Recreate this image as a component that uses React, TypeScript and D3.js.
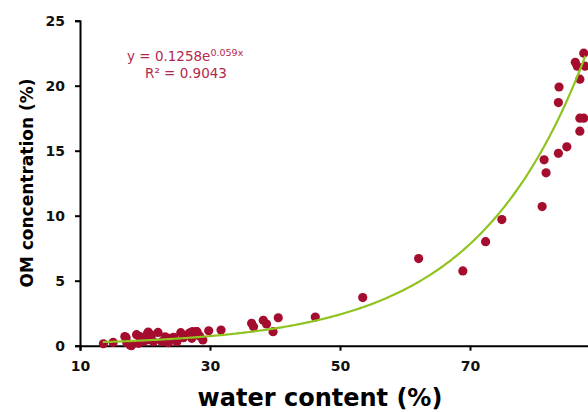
import * as d3 from "d3";
import React, { useEffect, useRef } from "react";

// water content (%) of each sample
const water = [
  13.6, 15.1, 16.9, 17.1, 17.2, 17.7, 17.9, 18.7, 19.0, 19.2, 19.5, 19.7, 20.3, 20.4, 20.5,
  21.0, 21.3, 22.0, 22.6, 23.1, 23.6, 23.8, 24.4, 24.9, 25.5, 25.9, 26.8, 26.9, 27.2, 27.3,
  27.9, 28.0, 28.4, 28.9, 29.8, 31.7, 36.4, 36.7, 38.2, 38.7, 39.7, 40.5, 46.2, 53.5, 62.1,
  68.9, 72.4, 74.9, 81.1, 81.7, 81.4, 83.6, 84.9, 83.6, 83.7, 86.9, 87.5, 86.9, 86.9, 86.5,
  86.2, 87.7, 87.5,
];
// OM concentration (%) of each sample
const om = [
  0.15, 0.25, 0.7, 0.62, 0.23, 0.05, 0.0, 0.85, 0.18, 0.7, 0.65, 0.31, 0.44, 0.95, 1.05,
  0.82, 0.31, 1.02, 0.31, 0.69, 0.23, 0.57, 0.65, 0.31, 1.0, 0.62, 0.95, 0.98, 0.57, 1.08,
  1.08, 1.08, 0.75, 0.44, 1.15, 1.2, 1.72, 1.45, 1.95, 1.67, 1.08, 2.15, 2.2, 3.7, 6.7,
  5.75, 8.0, 9.7, 10.7, 13.3, 14.3, 14.8, 15.3, 18.7, 19.9, 16.5, 17.5, 17.5, 20.5, 21.5,
  21.8, 21.5, 22.5,
];

const xTicks = [10, 30, 50, 70];
const yTicks = [0, 5, 10, 15, 20, 25];

// exponential fit shown on the chart
const fitA = 0.1258;
const fitB = 0.059;
const fitRange = [13.5, 87.8];

export default function App() {
  const ref = useRef<SVGSVGElement>(null);
  const width = 588;
  const height = 412;

  useEffect(() => {
    const svg = d3.select(ref.current);
    svg.selectAll("*").remove();

    const x = d3.scaleLinear().domain([10, 90]).range([80, 600]);
    const y = d3.scaleLinear().domain([0, 25]).range([345.7, 20.7]);

    const font = "'DejaVu Sans', Verdana, sans-serif";

    // y axis
    const yAxis = svg.append("g").attr("transform", `translate(${x(10)},0)`);
    yAxis.call(d3.axisLeft(y).tickValues(yTicks).tickSize(5).tickPadding(10));
    yAxis.select(".domain").attr("stroke", "#000").attr("stroke-width", 2);
    yAxis.selectAll(".tick line").attr("stroke", "#000").attr("stroke-width", 2);
    yAxis
      .selectAll(".tick text")
      .attr("fill", "#111")
      .style("font-family", font)
      .style("font-weight", "bold")
      .style("font-size", "14px");

    // x axis (runs past the right edge, like the cropped original)
    const xAxis = svg.append("g").attr("transform", `translate(0,${y(0)})`);
    xAxis.call(d3.axisBottom(x).tickValues(xTicks).tickSize(5).tickPadding(10));
    xAxis.select(".domain").attr("stroke", "#000").attr("stroke-width", 2);
    xAxis.selectAll(".tick line").attr("stroke", "#000").attr("stroke-width", 2);
    xAxis
      .selectAll(".tick text")
      .attr("fill", "#111")
      .style("font-family", font)
      .style("font-weight", "bold")
      .style("font-size", "14px");

    // points
    svg
      .append("g")
      .selectAll("circle")
      .data(water)
      .enter()
      .append("circle")
      .attr("cx", (d) => x(d))
      .attr("cy", (d, i) => y(om[i]))
      .attr("r", 4.6)
      .attr("fill", "#a50d2e");

    // trend line
    const fx = d3.range(fitRange[0], fitRange[1] + 0.01, 0.25);
    const line = d3
      .line<number>()
      .x((d) => x(d))
      .y((d) => y(fitA * Math.exp(fitB * d)));
    svg
      .append("path")
      .datum(fx)
      .attr("d", line)
      .attr("fill", "none")
      .attr("stroke", "#8fc31f")
      .attr("stroke-width", 2.2);

    // equation
    const eq = svg
      .append("text")
      .attr("x", 127)
      .attr("y", 61)
      .attr("fill", "#b3284c")
      .style("font-family", font)
      .style("font-size", "13.5px");
    eq.append("tspan").text("y = 0.1258e");
    eq.append("tspan").attr("dy", -5).style("font-size", "9.5px").text("0.059x");
    svg
      .append("text")
      .attr("x", 145)
      .attr("y", 78)
      .attr("fill", "#b3284c")
      .style("font-family", font)
      .style("font-size", "13.5px")
      .text("R² = 0.9043");

    // axis titles
    svg
      .append("text")
      .attr("transform", `translate(33,183) rotate(-90)`)
      .attr("text-anchor", "middle")
      .attr("fill", "#000")
      .style("font-family", font)
      .style("font-weight", "bold")
      .style("font-size", "17px")
      .text("OM concentration (%)");
    svg
      .append("text")
      .attr("x", 320)
      .attr("y", 406)
      .attr("text-anchor", "middle")
      .attr("fill", "#000")
      .style("font-family", font)
      .style("font-weight", "bold")
      .style("font-size", "24px")
      .text("water content (%)");
  }, []);

  return (
    <svg
      ref={ref}
      width={width}
      height={height}
      style={{ position: "absolute", left: 0, top: 0, background: "#fff" }}
    />
  );
}
